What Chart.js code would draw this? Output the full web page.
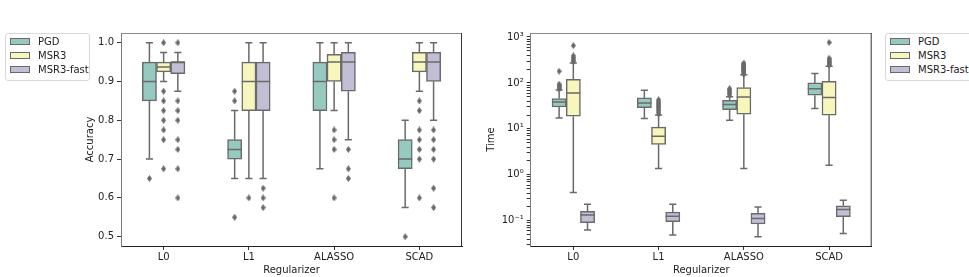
<!DOCTYPE html>
<html>
<head>
<meta charset="utf-8">
<script src="https://cdn.jsdelivr.net/npm/chart.js@4.4.0/dist/chart.umd.min.js"></script>
<style>
  body { margin: 0; width: 969px; height: 277px; background: #fff; position: relative; overflow: hidden; font-family: "DejaVu Sans"; }
  #wrap1 { position: absolute; left: 0; top: 0; width: 480px; height: 277px; }
  #wrap2 { position: absolute; left: 480px; top: 0; width: 489px; height: 277px; }
  .legend { position: absolute; top: 33px; height: 46px; border: 1px solid #d9d9d9; border-radius: 3px; background: #fff; font-size: 10px; color: #222; }
  .legend .row { position: absolute; left: 4px; height: 14px; line-height: 14px; white-space: nowrap; }
  .legend .sw { display: inline-block; width: 18px; height: 5px; border: 1px solid #6a6a6a; vertical-align: middle; margin-right: 8px; position: relative; top: -1px; }
</style>
</head>
<body>
<div id="wrap1"><canvas id="acc"></canvas></div>
<div id="wrap2"><canvas id="time"></canvas></div>
<div class="legend" id="leg1" style="left:5px;width:83px"></div>
<div class="legend" id="leg2" style="left:885px;width:90px"></div>
<script>
const categories = ['L0', 'L1', 'ALASSO', 'SCAD'];
const seriesNames = ['PGD', 'MSR3', 'MSR3-fast'];
const seriesColors = ['#96cac1', '#f6f6bd', '#c1bed6'];
const lineGray = '#6a6a6a';

// box stats per category: [whisker low, q1, median, q3, whisker high]
const accPGD  = [[0.70, 0.85, 0.90, 0.95, 1.00], [0.65, 0.70, 0.725, 0.75, 0.825], [0.675, 0.825, 0.90, 0.95, 1.00], [0.575, 0.675, 0.70, 0.75, 0.80]];
const accMSR3 = [[0.90, 0.925, 0.9375, 0.95, 0.975], [0.65, 0.825, 0.90, 0.95, 1.00], [0.825, 0.90, 0.95, 0.97, 1.00], [0.875, 0.925, 0.95, 0.975, 1.00]];
const accFast = [[0.875, 0.92, 0.95, 0.95, 0.975], [0.65, 0.825, 0.90, 0.95, 1.00], [0.75, 0.875, 0.95, 0.975, 1.00], [0.80, 0.90, 0.95, 0.975, 1.00]];
const accPGDOut  = [[0.65], [0.875, 0.85, 0.55], [], [0.50]];
const accMSR3Out = [[1.0, 0.875, 0.85, 0.825, 0.8, 0.775, 0.75, 0.675], [0.6], [0.775, 0.75, 0.725, 0.6], [0.85, 0.825, 0.775, 0.75, 0.725, 0.7, 0.6]];
const accFastOut = [[1.0, 0.85, 0.825, 0.8, 0.75, 0.725, 0.675, 0.6], [0.625, 0.6, 0.575], [0.725, 0.675, 0.65], [0.775, 0.75, 0.725, 0.7, 0.625, 0.575]];

const timePGD  = [[17.3, 30, 38.6, 45.6, 70], [16.8, 29.1, 36.7, 47.2, 69], [15.4, 26.3, 33.8, 42, 50], [27.7, 54, 75, 100, 160]];
const timeMSR3 = [[0.41, 18.8, 60.7, 120, 272], [1.37, 4.6, 6.9, 10.9, 20], [1.37, 20.8, 49.7, 79, 150], [1.62, 19.8, 48, 108.6, 230]];
const timeFast = [[0.063, 0.091, 0.133, 0.16, 0.23], [0.049, 0.095, 0.126, 0.154, 0.23], [0.045, 0.085, 0.112, 0.145, 0.20], [0.053, 0.122, 0.176, 0.212, 0.28]];
const timePGDOut  = [[74, 78, 83, 88, 94, 180], [], [55, 59, 63, 67, 71, 75], []];
const timeMSR3Out = [[290, 310, 335, 360, 390, 650], [21, 23, 25, 27, 29, 31, 33, 35, 37, 40, 43], [155, 165, 175, 185, 195, 205, 215, 228, 240, 255, 270], [245, 260, 280, 300, 320, 345, 760]];
const timeFastOut = [[], [], [], []];

const accTicks = [0.5, 0.6, 0.7, 0.8, 0.9, 1.0];
const supers = { '-1': '10\u207B\u00B9', '0': '10\u2070', '1': '10\u00B9', '2': '10\u00B2', '3': '10\u00B3' };
const hueOffset = h => (h - 1) / 6;   // box centres inside a category (width 0.5 split in 3)

// thin diamond marker like matplotlib 'd'
const diamond = document.createElement('canvas');
diamond.width = 5; diamond.height = 7;
(function () {
  const c = diamond.getContext('2d');
  c.fillStyle = lineGray;
  c.beginPath();
  c.moveTo(2.5, 0); c.lineTo(5, 3.5); c.lineTo(2.5, 7); c.lineTo(0, 3.5);
  c.closePath(); c.fill();
})();

const boxLines = {
  id: 'boxLines',
  afterDatasetsDraw(chart) {
    const ctx = chart.ctx;
    const y = chart.scales.y;
    ctx.save();
    ctx.strokeStyle = lineGray;
    ctx.lineWidth = 1.5;
    chart.data.datasets.forEach((ds, di) => {
      if (!ds.stats) return;
      chart.getDatasetMeta(di).data.forEach((bar, i) => {
        const s = ds.stats[i];
        const x = bar.x, half = bar.width / 2, cap = bar.width / 4;
        const lo = y.getPixelForValue(s[0]), q1 = y.getPixelForValue(s[1]);
        const med = y.getPixelForValue(s[2]), q3 = y.getPixelForValue(s[3]);
        const hi = y.getPixelForValue(s[4]);
        ctx.beginPath();
        ctx.moveTo(x, q1); ctx.lineTo(x, lo);
        ctx.moveTo(x - cap, lo); ctx.lineTo(x + cap, lo);
        ctx.moveTo(x, q3); ctx.lineTo(x, hi);
        ctx.moveTo(x - cap, hi); ctx.lineTo(x + cap, hi);
        ctx.moveTo(x - half, med); ctx.lineTo(x + half, med);
        ctx.stroke();
      });
    });
    ctx.restore();
  },
  afterDraw(chart) {
    const { ctx, chartArea: a } = chart;
    ctx.save();
    ctx.lineWidth = 1;
    ctx.strokeStyle = '#8a8a8a';
    ctx.beginPath(); ctx.moveTo(a.left, a.top + 0.5); ctx.lineTo(a.right, a.top + 0.5); ctx.stroke();
    ctx.strokeStyle = '#333';
    ctx.beginPath(); ctx.moveTo(a.right - 0.5, a.top); ctx.lineTo(a.right - 0.5, a.bottom); ctx.stroke();
    ctx.restore();
  }
};

function makeChart(id, stats, outs, yScale, yTitle, padding, yWidth) {
  const datasets = [];
  seriesNames.forEach((name, h) => {
    const pts = [];
    outs[h].forEach((arr, i) => arr.forEach(v => pts.push({ x: i + hueOffset(h), y: v })));
    datasets.push({
      type: 'scatter', label: name + ' outliers', data: pts,
      pointStyle: diamond, pointRadius: 3.5
    });
  });
  seriesNames.forEach((name, h) => {
    datasets.push({
      type: 'bar', label: name, stats: stats[h],
      data: stats[h].map((s, i) => ({ x: i + hueOffset(h), y: [s[1], s[3]] })),
      backgroundColor: seriesColors[h], borderColor: lineGray, borderWidth: 1.5, borderSkipped: false,
      grouped: false, categoryPercentage: 1.0, barPercentage: 1.0
    });
  });
  yScale.title = { display: true, text: yTitle, color: '#222', font: { family: 'DejaVu Sans', size: 10 }, padding: { top: 4, bottom: 4 } };
  yScale.grid = { drawOnChartArea: false, tickLength: 4, color: '#333' };
  yScale.border = { color: '#7a7a7a', width: 1 };
  yScale.afterFit = s => { s.width = yWidth; };
  new Chart(document.getElementById(id), {
    type: 'bar',
    data: { datasets },
    options: {
      responsive: true, maintainAspectRatio: false, animation: false,
      layout: { padding },
      plugins: { legend: { display: false }, tooltip: { enabled: false } },
      scales: {
        x: {
          type: 'linear', min: -0.5, max: 3.5, offset: false,
          afterBuildTicks: s => { s.ticks = categories.map((c, i) => ({ value: i })); },
          grid: { drawOnChartArea: false, offset: false, tickLength: 4, color: '#333' },
          border: { color: '#222', width: 1 },
          ticks: { color: '#222', font: { family: 'DejaVu Sans', size: 10 }, padding: 1, maxRotation: 0, autoSkip: false,
                   callback: v => categories[Math.round(v)] },
          title: { display: true, text: 'Regularizer', color: '#222', font: { family: 'DejaVu Sans', size: 10 }, padding: { top: 0, bottom: 1 } },
          afterFit: s => { s.height = 31; }
        },
        y: yScale
      }
    },
    plugins: [boxLines]
  });
}

makeChart('acc', [accPGD, accMSR3, accFast], [accPGDOut, accMSR3Out, accFastOut], {
  type: 'linear', min: 0.476, max: 1.025,
  afterBuildTicks: s => { s.ticks = accTicks.map(v => ({ value: v })); },
  ticks: { color: '#222', font: { family: 'DejaVu Sans', size: 10 }, padding: 3, callback: v => v.toFixed(1) }
}, 'Accuracy', { left: 80, right: 18, top: 33, bottom: 0 }, 41);

makeChart('time', [timePGD, timeMSR3, timeFast], [timePGDOut, timeMSR3Out, timeFastOut], {
  type: 'logarithmic', min: 0.0282, max: 1222,
  afterBuildTicks: s => {
    const t = [];
    for (let e = -2; e <= 3; e++) {
      for (let m = 1; m <= 9; m++) {
        const v = m * Math.pow(10, e);
        if (v >= s.min && v <= s.max) t.push({ value: v, major: m === 1 });
      }
    }
    s.ticks = t;
  },
  ticks: {
    color: '#222', font: { family: 'DejaVu Sans', size: 10 }, padding: 3, autoSkip: false,
    callback: function (v) {
      const e = Math.log10(v);
      return Math.abs(e - Math.round(e)) < 1e-6 ? supers[String(Math.round(e))] : '';
    }
  }
}, 'Time', { left: 1, right: 97.3, top: 33, bottom: 0 }, 49.7);

function buildLegend(id) {
  const el = document.getElementById(id);
  seriesNames.forEach((name, h) => {
    const row = document.createElement('div');
    row.className = 'row';
    row.style.top = (1 + h * 14) + 'px';
    const sw = document.createElement('span');
    sw.className = 'sw';
    sw.style.background = seriesColors[h];
    row.appendChild(sw);
    row.appendChild(document.createTextNode(name));
    el.appendChild(row);
  });
}
buildLegend('leg1');
buildLegend('leg2');
</script>
</body>
</html>
